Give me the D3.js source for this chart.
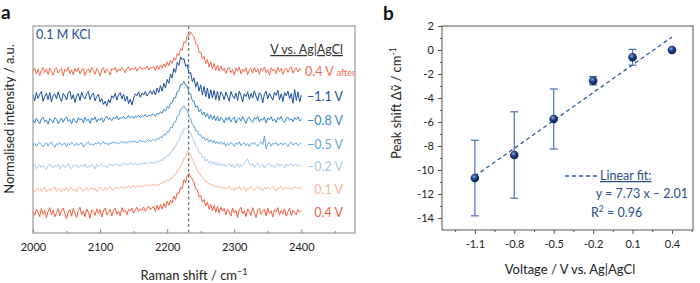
<!DOCTYPE html>
<html>
<head>
<meta charset="utf-8">
<script src="https://cdn.jsdelivr.net/npm/d3@7"></script>
<style>
  body { margin: 0; background: #fff; }
  text { font-family: Lato, "Open Sans", sans-serif; }
</style>
</head>
<body>
<svg id="chart" width="700" height="283"></svg>
<script>
// ---- panel a: Raman spectra (normalised, sampled every 2.5 cm-1 from 2000 to 2400) ----
const shiftStart = 2000, shiftStep = 2.5;
const shiftTicks = [2000, 2100, 2200, 2300, 2400];
const peakRef = 2232;

const specLabels = ["0.4 V", "0.1 V", "\u22120.2 V", "\u22120.5 V", "\u22120.8 V", "\u22121.1 V", "0.4 V"];
const specColors = ["#f25f3f", "#f9b59a", "#a9cbec", "#60a6dc", "#3686c6", "#1b4f9b", "#f46a4e"];
const specOffsets = [0, 0.59, 1.18, 1.74, 2.36, 2.97, 3.62];

const spec04 = [
  0.05, -0.06, 0.1, 0.02, -0.09, 0.12, -0.03, 0.07, -0.12, 0.04, 0.14, -0.05, 0.08, -0.1, 0.01, 0.11, -0.07, 0.06, 0.13, -0.02,
  -0.14, 0.03, 0.09, -0.08, 0.12, 0.0, -0.11, 0.07, 0.15, -0.04, 0.05, -0.09, 0.1, 0.02, -0.13, 0.08, 0.04, -0.06, 0.11, -0.01,
  0.09, -0.1, 0.06, 0.13, -0.05, 0.02, 0.1, -0.08, 0.07, 0.12, -0.03, 0.05, -0.07, 0.14, 0.03, 0.08, -0.04, 0.1, 0.06, 0.13,
  0.0, 0.09, 0.15, 0.04, 0.11, 0.07, 0.16, 0.05, 0.12, 0.18, 0.09, 0.14,
  0.17, 0.04, 0.2, 0.08, 0.22, 0.1, 0.25, 0.14, 0.3, 0.2, 0.33, 0.26, 0.44, 0.35, 0.52, 0.5, 0.66, 0.63, 0.86, 0.78, 0.97, 1.02, 0.93, 0.88, 0.8, 0.62,
  0.6, 0.42, 0.45, 0.28, 0.35, 0.18, 0.28, 0.1, 0.22, 0.06, 0.2, 0.02, 0.17, 0.0, 0.15,
  0.05, 0.12, -0.04, 0.1, 0.03, -0.08, 0.13, 0.01, 0.07, -0.11, 0.09, 0.15, -0.02, 0.06, -0.09, 0.11, 0.04, -0.06, 0.14, 0.02,
  -0.12, 0.08, 0.12, -0.03, 0.05, 0.1, -0.07, 0.13, -0.01, 0.06, -0.1, 0.09, 0.03, 0.14, -0.05, 0.07, -0.02, 0.11, -0.08, 0.04,
  0.12, -0.06, 0.08, 0.01, -0.04, 0.1, 0.03, 0.06];
const spec01 = [
  0.02, -0.04, 0.05, 0.0, 0.06, -0.03, 0.03, 0.07, -0.05, 0.01, 0.04, -0.02, 0.06, 0.08, -0.04, 0.02, 0.05, -0.06, 0.03, 0.0,
  0.07, -0.03, 0.04, 0.06, -0.01, 0.02, -0.05, 0.05, 0.08, 0.01, -0.03, 0.04, 0.07, -0.02, 0.03, 0.06, 0.0, 0.05, -0.04, 0.02,
  0.08, 0.03, -0.02, 0.06, 0.01, 0.04, 0.09, 0.02, -0.01, 0.05, 0.07, 0.03, 0.06, 0.1, 0.04, 0.08, 0.05, 0.11, 0.06, 0.09,
  0.12, 0.07, 0.1, 0.13, 0.08, 0.11, 0.09, 0.14, 0.1, 0.13, 0.11, 0.15,
  0.14, 0.1, 0.16, 0.12, 0.18, 0.15, 0.22, 0.19, 0.26, 0.23, 0.31, 0.3, 0.39, 0.4, 0.5, 0.52, 0.62, 0.68, 0.82, 0.86, 1.0, 0.96, 0.9, 0.8, 0.7,
  0.6, 0.5, 0.44, 0.36, 0.32, 0.27, 0.22, 0.2, 0.15, 0.16, 0.11, 0.13, 0.08, 0.11, 0.06, 0.09,
  0.04, 0.08, 0.02, 0.06, 0.1, 0.01, 0.05, -0.02, 0.07, 0.03, 0.09, 0.0, 0.04, 0.07, -0.03, 0.05, 0.02, 0.08, 0.04, -0.01,
  0.06, 0.1, 0.02, 0.05, -0.02, 0.07, 0.03, 0.08, 0.01, 0.05, 0.09, 0.02, -0.03, 0.06, 0.04, 0.1, 0.01, 0.05, 0.08, 0.03,
  0.07, 0.0, 0.06, 0.09, 0.04, 0.07, 0.03, 0.06];
const specM02 = [
  0.03, 0.07, -0.04, 0.02, 0.06, -0.02, 0.05, 0.0, -0.06, 0.04, 0.08, 0.01, -0.03, 0.05, 0.02, 0.07, -0.05, 0.03, 0.06, -0.01,
  0.04, 0.09, 0.0, -0.04, 0.05, 0.02, 0.07, -0.02, 0.03, 0.06, 0.01, 0.08, -0.03, 0.04, 0.0, 0.06, 0.03, -0.05, 0.07, 0.02,
  0.05, 0.09, 0.01, 0.04, -0.02, 0.06, 0.08, 0.03, 0.05, 0.1, 0.04, 0.07, 0.02, 0.09, 0.06, 0.11, 0.05, 0.08, 0.12, 0.07,
  0.07, 0.1, 0.05, 0.09, 0.06, 0.11, 0.08, 0.12, 0.07, 0.1, 0.13, 0.09,
  0.13, 0.09, 0.16, 0.12, 0.19, 0.16, 0.24, 0.22, 0.3, 0.28, 0.38, 0.4, 0.5, 0.52, 0.64, 0.68, 0.82, 0.86, 0.98, 0.97, 1.02, 0.93, 0.88, 0.74, 0.68,
  0.54, 0.5, 0.38, 0.36, 0.24, 0.26, 0.15, 0.2, 0.1, 0.16, 0.07, 0.14, 0.05, 0.12, 0.04, 0.09,
  0.03, 0.08, 0.01, 0.06, 0.1, 0.02, 0.07, -0.03, 0.05, 0.09, 0.0, 0.06, 0.03, 0.1, 0.16, 0.22, 0.08, 0.04, 0.09, -0.01,
  0.06, 0.11, 0.02, 0.05, 0.08, -0.02, 0.04, 0.07, 0.1, 0.01, 0.05, -0.03, 0.06, 0.09, 0.02, 0.07, 0.04, -0.01, 0.08, 0.03,
  0.06, 0.1, 0.02, 0.05, 0.08, 0.01, 0.06, 0.04];
const specM05 = [
  0.0, 0.05, -0.03, 0.04, 0.07, 0.01, -0.04, 0.03, 0.06, -0.02, 0.05, 0.08, 0.0, -0.05, 0.04, 0.02, 0.07, -0.01, 0.03, 0.06,
  -0.03, 0.05, 0.01, 0.08, 0.03, -0.02, 0.06, 0.0, 0.04, 0.07, -0.04, 0.02, 0.05, 0.09, 0.01, 0.04, -0.01, 0.06, 0.03, 0.08,
  0.02, 0.05, 0.09, 0.03, 0.06, 0.0, 0.07, 0.04, 0.1, 0.05, 0.08, 0.03, 0.07, 0.11, 0.06, 0.09, 0.05, 0.1, 0.07, 0.12,
  0.08, 0.11, 0.06, 0.1, 0.13, 0.09, 0.12, 0.08, 0.11, 0.14, 0.1, 0.13,
  0.15, 0.11, 0.18, 0.15, 0.22, 0.19, 0.28, 0.26, 0.35, 0.34, 0.46, 0.45, 0.59, 0.6, 0.75, 0.78, 0.93, 0.94, 1.01, 0.93, 0.9, 0.74, 0.69, 0.53, 0.5,
  0.37, 0.37, 0.26, 0.28, 0.18, 0.21, 0.12, 0.17, 0.08, 0.14, 0.06, 0.12, 0.04, 0.1, 0.03, 0.09,
  0.02, 0.07, -0.02, 0.05, 0.01, 0.08, 0.03, -0.03, 0.06, 0.02, 0.09, -0.01, 0.04, 0.07, 0.0, 0.05, -0.04, 0.06, 0.03, 0.08,
  0.01, -0.02, 0.05, 0.09, 0.02, 0.24, -0.1, 0.04, 0.07, -0.02, 0.05, 0.03, 0.08, -0.01, 0.04, 0.06, 0.0, 0.07, 0.02, -0.03,
  0.05, 0.08, 0.01, 0.04, 0.06, -0.01, 0.03, 0.05];
const specM08 = [
  0.04, -0.05, 0.08, 0.0, -0.07, 0.06, 0.1, -0.02, 0.03, -0.08, 0.07, 0.02, -0.04, 0.09, 0.05, -0.06, 0.01, 0.08, -0.03, 0.06,
  0.11, -0.01, 0.04, -0.07, 0.07, 0.02, -0.05, 0.09, 0.03, 0.06, -0.04, 0.1, 0.01, 0.05, -0.06, 0.08, 0.03, 0.11, -0.02, 0.06,
  0.02, 0.09, -0.03, 0.07, 0.12, 0.04, 0.08, 0.01, 0.1, 0.06, 0.13, 0.03, 0.09, 0.07, 0.12, 0.05, 0.1, 0.14, 0.08, 0.12,
  0.07, 0.13, 0.1, 0.15, 0.09, 0.14, 0.12, 0.17, 0.11, 0.15, 0.13, 0.18,
  0.16, 0.13, 0.2, 0.17, 0.24, 0.2, 0.3, 0.26, 0.37, 0.33, 0.46, 0.47, 0.6, 0.6, 0.76, 0.77, 0.94, 0.93, 1.02, 0.92, 0.9, 0.73, 0.7, 0.52, 0.52,
  0.36, 0.39, 0.24, 0.3, 0.16, 0.23, 0.11, 0.19, 0.06, 0.16, 0.04, 0.14, 0.01, 0.12, 0.0, 0.1,
  0.05, -0.04, 0.09, 0.02, 0.11, -0.02, 0.06, 0.1, -0.05, 0.04, 0.08, 0.0, 0.12, 0.03, -0.06, 0.07, 0.1, 0.01, -0.03, 0.09,
  0.05, 0.12, -0.02, 0.06, 0.02, 0.1, -0.05, 0.08, 0.03, 0.11, 0.0, 0.06, -0.04, 0.09, 0.04, 0.12, 0.01, -0.03, 0.07, 0.1,
  0.02, 0.06, -0.02, 0.09, 0.04, 0.11, 0.0, 0.05];
const specM11 = [
  0.06, -0.09, 0.12, -0.03, 0.08, 0.15, -0.1, 0.02, 0.11, -0.06, 0.13, -0.12, 0.05, 0.09, -0.04, 0.14, 0.0, -0.11, 0.1, 0.04,
  -0.07, 0.12, 0.16, -0.05, 0.07, -0.13, 0.03, 0.1, -0.08, 0.13, 0.01, -0.04, 0.09, 0.15, -0.06, 0.05, 0.11, -0.09, 0.02, 0.08,
  -0.12, -0.03, -0.18, -0.1, -0.22, -0.06, -0.14, 0.04, -0.02, 0.1, -0.07, 0.06, 0.12, -0.04, 0.08, -0.1, 0.03, -0.16, -0.05, -0.2,
  -0.02, 0.09, 0.04, 0.14, 0.0, 0.11, 0.06, 0.15, 0.03, 0.1, 0.17, 0.08,
  0.18, 0.06, 0.24, 0.12, 0.3, 0.16, 0.36, 0.24, 0.46, 0.36, 0.6, 0.5, 0.74, 0.64, 0.9, 0.82, 1.04, 0.96, 1.0, 0.8, 0.84, 0.6, 0.64, 0.4, 0.5,
  0.26, 0.4, 0.16, 0.32, 0.06, 0.28, 0.02, 0.24, -0.04, 0.2, -0.02, 0.18, -0.06, 0.16, -0.08, 0.14,
  0.08, -0.06, 0.13, 0.02, -0.1, 0.15, 0.04, -0.03, 0.11, -0.08, 0.16, 0.05, -0.12, 0.09, 0.02, 0.14, -0.05, 0.1, -0.02, 0.17,
  0.03, -0.09, 0.12, 0.06, -0.14, 0.08, 0.15, -0.04, 0.1, 0.01, -0.07, 0.13, 0.05, 0.18, -0.06, 0.09, -0.11, 0.12, 0.04, 0.16,
  -0.03, 0.1, -0.15, 0.2, -0.08, 0.14, -0.12, 0.06];
const spec04after = [
  0.03, 0.1, -0.05, 0.07, -0.09, 0.05, 0.12, -0.02, 0.08, -0.06, 0.1, 0.01, -0.08, 0.06, 0.11, -0.03, 0.04, 0.09, -0.1, 0.07,
  0.02, 0.12, -0.04, 0.06, -0.07, 0.09, 0.0, 0.11, -0.05, 0.05, 0.1, -0.09, 0.03, 0.08, -0.02, 0.12, 0.04, -0.06, 0.09, 0.01,
  -0.1, 0.06, 0.11, -0.03, 0.07, 0.02, -0.08, 0.1, 0.05, 0.12, -0.01, 0.08, 0.03, 0.11, 0.06, -0.02, 0.09, 0.13, 0.04, 0.1,
  0.07, 0.12, 0.02, 0.1, 0.14, 0.06, 0.11, 0.08, 0.15, 0.05, 0.12, 0.09,
  0.14, 0.04, 0.16, 0.06, 0.18, 0.1, 0.21, 0.12, 0.26, 0.16, 0.3, 0.22, 0.37, 0.3, 0.48, 0.42, 0.6, 0.56, 0.78, 0.74, 0.94, 0.92, 1.02, 0.96, 0.9,
  0.72, 0.7, 0.5, 0.52, 0.34, 0.4, 0.22, 0.32, 0.13, 0.26, 0.08, 0.22, 0.04, 0.18, 0.02, 0.15,
  0.03, 0.1, -0.04, 0.08, 0.12, -0.02, 0.06, -0.08, 0.1, 0.02, 0.13, -0.05, 0.07, 0.01, 0.11, -0.07, 0.05, 0.09, -0.03, 0.12,
  0.0, 0.08, -0.06, 0.1, 0.04, 0.13, -0.02, 0.06, -0.09, 0.11, 0.03, 0.07, -0.04, 0.12, 0.01, 0.09, -0.06, 0.05, 0.1, -0.01,
  0.08, 0.14, -0.03, 0.06, 0.11, 0.0, 0.09, 0.04];
const spectra = [spec04, spec01, specM02, specM05, specM08, specM11, spec04after];

// ---- panel b: peak shift vs voltage ----
const voltages = [-1.1, -0.8, -0.5, -0.2, 0.1, 0.4];
const peakShift = [-10.67, -8.75, -5.75, -2.56, -0.61, 0.0];
const shiftErr = [3.15, 3.6, 2.5, 0.35, 0.66, 0];
const fitSlope = 7.73, fitIntercept = -2.01;
const voltTicks = [-1.1, -0.8, -0.5, -0.2, 0.1, 0.4];
const shiftTicksB = [2, 0, -2, -4, -6, -8, -10, -12, -14];

const svg = d3.select("#chart");

// ================= panel a =================
const xA = d3.scaleLinear().domain([2000, 2480]).range([33, 355]);
const yA = d3.scaleLinear().domain([-0.51, 4.8]).range([233, 26]);
const gA = svg.append("g");

// dashed reference line at the peak position
gA.append("line")
    .attr("x1", xA(peakRef)).attr("x2", xA(peakRef))
    .attr("y1", 26).attr("y2", 233)
    .attr("stroke", "#777").attr("stroke-width", 1.3)
    .attr("stroke-dasharray", "3,2.5");

const lineA = d3.line();
spectra.forEach(function(s, k) {
    gA.append("path")
        .attr("d", lineA(s.map((v, i) => [xA(shiftStart + i * shiftStep), yA(v + specOffsets[k])])))
        .attr("fill", "none")
        .attr("stroke", specColors[k])
        .attr("stroke-width", 1)
        .attr("stroke-linejoin", "round");
});

// labels next to each trace
spectra.forEach(function(s, k) {
    let t = gA.append("text")
        .attr("y", yA(specOffsets[k]) + 4)
        .attr("fill", specColors[k])
        .style("font-size", "12.5px");
    if (k === 6) {
        t.attr("x", 305).attr("text-anchor", "start").text(specLabels[k]);
        t.append("tspan").attr("dx", 3).style("font-size", "9px").text("after");
    } else {
        t.attr("x", 343).attr("text-anchor", "end").text(specLabels[k]);
    }
});

gA.append("text").attr("x", 343).attr("y", 54).attr("text-anchor", "end")
    .attr("fill", "#333").style("font-size", "12.5px")
    .style("text-decoration", "underline")
    .text("V vs. Ag|AgCl");

gA.append("text").attr("x", 36).attr("y", 39)
    .attr("fill", "#1f4e96").style("font-size", "12.5px")
    .text("0.1 M KCl");

// frame
gA.append("rect").attr("x", 33).attr("y", 26).attr("width", 322).attr("height", 207)
    .attr("fill", "none").attr("stroke", "#999").attr("stroke-width", 1.2);

// bottom ticks (inward)
const axA = gA.append("g").attr("transform", "translate(0,233)")
    .call(d3.axisBottom(xA).tickValues(shiftTicks).tickSize(-4).tickPadding(10).tickFormat(d3.format("d")));
gA.append("g").attr("transform", "translate(0,233)")
    .call(d3.axisBottom(xA).tickValues([2050, 2150, 2250, 2350, 2450]).tickSize(-2).tickFormat(""))
    .call(g => g.select(".domain").remove());
axA.select(".domain").remove();
gA.selectAll(".tick line").attr("stroke", "#888");
axA.selectAll("text").style("font-size", "11px").attr("fill", "#222");

gA.append("text").attr("x", 194).attr("y", 280).attr("text-anchor", "middle")
    .attr("fill", "#222").style("font-size", "13px")
    .text("Raman shift / cm")
    .append("tspan").attr("dy", -5).style("font-size", "9px").text("\u22121");

gA.append("text").attr("transform", "translate(14,119) rotate(-90)")
    .attr("text-anchor", "middle").attr("fill", "#222").style("font-size", "13px")
    .text("Normalised intensity / a.u.");

svg.append("text").attr("x", 1).attr("y", 19).style("font-size", "19px")
    .style("font-weight", "bold").attr("fill", "#111").text("a");

// ================= panel b =================
const xB = d3.scaleLinear().domain([-1.35, 0.56]).range([442, 693]);
const yB = d3.scaleLinear().domain([-15, 2]).range([230, 26]);
const gB = svg.append("g");

const defs = svg.append("defs");
const grad = defs.append("radialGradient").attr("id", "ball")
    .attr("cx", "40%").attr("cy", "35%").attr("r", "65%");
grad.append("stop").attr("offset", "0%").attr("stop-color", "#8fa6d4");
grad.append("stop").attr("offset", "45%").attr("stop-color", "#1d3f86");
grad.append("stop").attr("offset", "100%").attr("stop-color", "#0c1f4e");

// axes (ticks outward)
gB.append("g").attr("transform", "translate(442,0)")
    .call(d3.axisLeft(yB).tickValues(shiftTicksB).tickSize(4).tickPadding(4).tickFormat(d => String(d)));
gB.append("g").attr("transform", "translate(442,0)")
    .call(d3.axisLeft(yB).tickValues([1, -1, -3, -5, -7, -9, -11, -13]).tickSize(2).tickFormat(""));
gB.append("g").attr("transform", "translate(0,230)")
    .call(d3.axisBottom(xB).tickValues(voltTicks).tickSize(4).tickPadding(6).tickFormat(d => String(d)));
gB.append("g").attr("transform", "translate(0,230)")
    .call(d3.axisBottom(xB).tickValues([-1.25, -0.95, -0.65, -0.35, -0.05, 0.25, 0.55]).tickSize(2).tickFormat(""));
gB.selectAll(".domain").remove();
gB.selectAll(".tick line").attr("stroke", "#555");
gB.selectAll(".tick text").style("font-size", "11px").attr("fill", "#222");

gB.append("rect").attr("x", 442).attr("y", 26).attr("width", 251).attr("height", 204)
    .attr("fill", "none").attr("stroke", "#555").attr("stroke-width", 1);

// fit line
gB.append("line")
    .attr("x1", xB(voltages[0])).attr("y1", yB(fitSlope * voltages[0] + fitIntercept))
    .attr("x2", xB(voltages[5])).attr("y2", yB(fitSlope * voltages[5] + fitIntercept))
    .attr("stroke", "#2d5aa0").attr("stroke-width", 1.3).attr("stroke-dasharray", "4,3");

// error bars
const eb = gB.selectAll(".err").data(voltages.map((v, i) => ({v: v, y: peakShift[i], e: shiftErr[i]})).filter(d => d.e > 0))
    .enter().append("g").attr("class", "err").attr("stroke", "#4a72b0").attr("stroke-width", 1.2);
eb.append("line").attr("x1", d => xB(d.v)).attr("x2", d => xB(d.v))
    .attr("y1", d => yB(d.y + d.e)).attr("y2", d => yB(d.y - d.e));
eb.append("line").attr("x1", d => xB(d.v) - 4).attr("x2", d => xB(d.v) + 4)
    .attr("y1", d => yB(d.y + d.e)).attr("y2", d => yB(d.y + d.e));
eb.append("line").attr("x1", d => xB(d.v) - 4).attr("x2", d => xB(d.v) + 4)
    .attr("y1", d => yB(d.y - d.e)).attr("y2", d => yB(d.y - d.e));

gB.selectAll(".pt").data(voltages).enter().append("circle")
    .attr("cx", d => xB(d)).attr("cy", (d, i) => yB(peakShift[i]))
    .attr("r", 4.3).attr("fill", "url(#ball)");

// legend
gB.append("line").attr("x1", 565).attr("x2", 597).attr("y1", 176).attr("y2", 176)
    .attr("stroke", "#2d5aa0").attr("stroke-width", 1.3).attr("stroke-dasharray", "4,3");
gB.append("text").attr("x", 600).attr("y", 180).attr("fill", "#2a4d92")
    .style("font-size", "12.5px").style("text-decoration", "underline").text("Linear fit:");
gB.append("text").attr("x", 688).attr("y", 198).attr("text-anchor", "end").attr("fill", "#2a4d92")
    .style("font-size", "12.5px").text("y = 7.73 x \u2013 2.01");
const r2 = gB.append("text").attr("x", 591).attr("y", 217).attr("fill", "#2a4d92")
    .style("font-size", "12.5px").text("R");
r2.append("tspan").attr("dy", -5).style("font-size", "8.5px").text("2");
r2.append("tspan").attr("dy", 5).text(" = 0.96");

gB.append("text").attr("x", 570).attr("y", 274).attr("text-anchor", "middle")
    .attr("fill", "#222").style("font-size", "13px").text("Voltage / V vs. Ag|AgCl");

const yt = gB.append("text").attr("transform", "translate(401,103) rotate(-90)")
    .attr("text-anchor", "middle").attr("fill", "#222").style("font-size", "13px")
    .text("Peak shift \u0394\u1E7D / cm");
yt.append("tspan").attr("dy", -5).style("font-size", "9px").text("-1");

svg.append("text").attr("x", 383).attr("y", 20).style("font-size", "19px")
    .style("font-weight", "bold").attr("fill", "#111").text("b");
</script>
</body>
</html>
